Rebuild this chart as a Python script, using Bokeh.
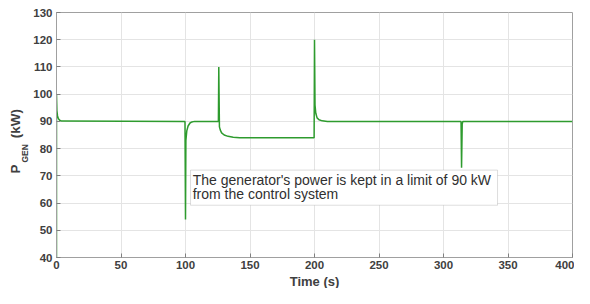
from bokeh.plotting import figure
from bokeh.models import Label, BoxAnnotation, FixedTicker, Title
from bokeh.embed import file_html
from bokeh.resources import INLINE

# Data
time_s = [0, 0, 0.3, 0.8, 1.5, 2.5, 4, 99.6, 100, 100.3, 101, 102, 103.5, 105, 107,
          125.5, 125.8, 126.3, 127, 128, 130, 133, 137, 142,
          199.7, 200, 200.4, 201, 202, 203.5, 206, 210,
          313.6, 314, 314.5, 315, 400]
p_gen = [40, 100, 94, 92, 91, 90.4, 90.1, 90, 54, 83, 86.5, 88.3, 89.4, 89.8, 90,
         90, 110, 88, 86.8, 85.8, 85.0, 84.5, 84.2, 84,
         84, 120, 96, 93, 91.3, 90.6, 90.2, 90,
         90, 73, 89, 90, 90]
x_ticks = [0, 50, 100, 150, 200, 250, 300, 350, 400]
y_ticks = [40, 50, 60, 70, 80, 90, 100, 110, 120, 130]
note_lines = ["The generator's power is kept in a limit of 90 kW",
              "from the control system"]

TICK_COLOR = "#404040"
FONT = "Liberation Sans"
NB = "\u00a0"

p = figure(width=574, height=288, x_range=(0, 400), y_range=(40, 130),
           output_backend="svg", toolbar_location=None,
           min_border_left=56, min_border_right=2, min_border_top=12, min_border_bottom=0)

p.line(time_s, p_gen, line_color="#2e9b2e", line_width=1.5)

for ax in (p.xaxis[0], p.yaxis[0]):
    ax.major_label_text_font = FONT
    ax.major_label_text_font_style = "bold"
    ax.major_label_text_font_size = "11.5px"
    ax.major_label_text_color = TICK_COLOR
    ax.axis_line_color = "#a0a0a0"
    ax.major_tick_line_color = "#808080"
    ax.major_tick_in = 4
    ax.major_tick_out = 0
    ax.minor_tick_line_color = None
    ax.major_label_standoff = 4
p.xaxis.major_label_standoff = 3
p.xaxis.ticker = FixedTicker(ticks=x_ticks)
p.yaxis.ticker = FixedTicker(ticks=y_ticks)

p.xgrid.grid_line_color = "#e4e4e4"
p.ygrid.grid_line_color = "#e4e4e4"
p.outline_line_color = "#a0a0a0"
p.background_fill_color = "white"
p.border_fill_color = "white"

# annotation box
p.add_layout(BoxAnnotation(left=103.9, right=341.9, bottom=59.2, top=72.1,
                           fill_color="white", fill_alpha=1.0,
                           line_color="#909090", line_width=1, level="overlay"))
for i, txt in enumerate(note_lines):
    p.add_layout(Label(x=105.6, y=68.6 - 5.2 * i, text=txt, text_font=FONT,
                       text_font_size="14px", text_color="#303030",
                       text_baseline="middle", text_align="left", level="overlay"))

# axis titles
p.add_layout(Title(text="Time (s)", align="center", offset=-5, standoff=0,
                   text_font=FONT, text_font_style="bold", text_font_size="13px",
                   text_color=TICK_COLOR), "below")
p.add_layout(Title(text="GEN", align="left", offset=95, standoff=1,
                   text_font=FONT, text_font_style="bold", text_font_size="8.5px",
                   text_color=TICK_COLOR), "left")
p.add_layout(Title(text="P" + NB * 7 + "(kW)", align="left", offset=84, standoff=-10,
                   text_font=FONT, text_font_style="bold", text_font_size="13.5px",
                   text_color=TICK_COLOR), "left")

open("out.html", "w").write(file_html(p, INLINE))
